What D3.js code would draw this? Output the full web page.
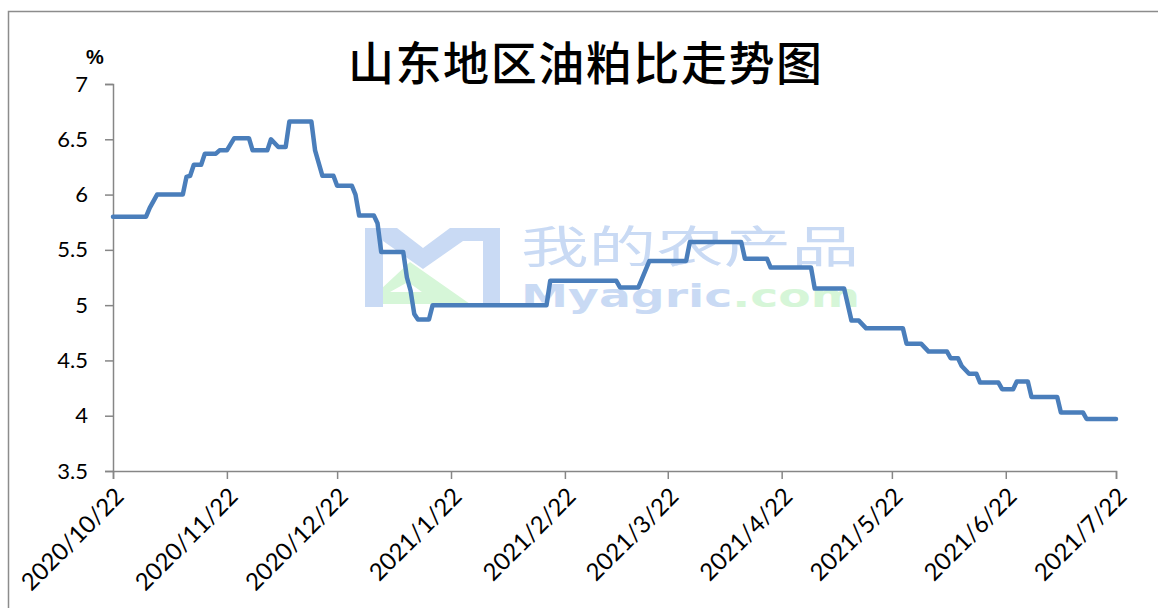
<!DOCTYPE html>
<html>
<head>
<meta charset="utf-8">
<script src="https://cdn.jsdelivr.net/npm/d3@7"></script>
<style>
  html, body { margin: 0; padding: 0; background: #fff; overflow: hidden; }
  svg { display: block; }
  .tick text { font-family: Lato, "Open Sans", sans-serif; font-size: 22px; fill: #000; }
  .x-axis .tick text { font-size: 24px; }
</style>
</head>
<body>
<svg id="chart"></svg>
<script>
// 数据
var dates = [
  "2020-10-22", "2020-10-31", "2020-11-01", "2020-11-03", "2020-11-10", "2020-11-11",
  "2020-11-12", "2020-11-13", "2020-11-15", "2020-11-16", "2020-11-19", "2020-11-20",
  "2020-11-22", "2020-11-24", "2020-11-28", "2020-11-29", "2020-12-03", "2020-12-04",
  "2020-12-06", "2020-12-08", "2020-12-09", "2020-12-15", "2020-12-16", "2020-12-18",
  "2020-12-21", "2020-12-22", "2020-12-26", "2020-12-27", "2020-12-28", "2021-01-01",
  "2021-01-02", "2021-01-03", "2021-01-09", "2021-01-10", "2021-01-11", "2021-01-12",
  "2021-01-13", "2021-01-16", "2021-01-17", "2021-02-17", "2021-02-18", "2021-03-08",
  "2021-03-09", "2021-03-14", "2021-03-15", "2021-03-17", "2021-03-27", "2021-03-28",
  "2021-04-11", "2021-04-12", "2021-04-18", "2021-04-19", "2021-04-30", "2021-05-01",
  "2021-05-09", "2021-05-11", "2021-05-13", "2021-05-15", "2021-05-25", "2021-05-26",
  "2021-05-30", "2021-06-01", "2021-06-06", "2021-06-07", "2021-06-09", "2021-06-10",
  "2021-06-12", "2021-06-14", "2021-06-15", "2021-06-20", "2021-06-21", "2021-06-24",
  "2021-06-25", "2021-06-28", "2021-06-29", "2021-07-06", "2021-07-07", "2021-07-13",
  "2021-07-14", "2021-07-22"
];
var values = [
  5.80, 5.80, 5.88, 6.00, 6.00, 6.16,
  6.17, 6.27, 6.27, 6.37, 6.37, 6.40,
  6.40, 6.51, 6.51, 6.40, 6.40, 6.50,
  6.43, 6.43, 6.66, 6.66, 6.40, 6.17,
  6.17, 6.08, 6.08, 6.00, 5.81, 5.81,
  5.74, 5.48, 5.48, 5.25, 5.13, 4.92,
  4.87, 4.87, 5.00, 5.00, 5.22, 5.22,
  5.16, 5.16, 5.24, 5.40, 5.40, 5.57,
  5.57, 5.42, 5.42, 5.34, 5.34, 5.15,
  5.15, 4.86, 4.86, 4.79, 4.79, 4.65,
  4.65, 4.58, 4.58, 4.52, 4.52, 4.45,
  4.38, 4.38, 4.30, 4.30, 4.24, 4.24,
  4.31, 4.31, 4.17, 4.17, 4.03, 4.03,
  3.97, 3.97
];
var xTicks = ["2020-10-22", "2020-11-22", "2020-12-22", "2021-01-22", "2021-02-22",
  "2021-03-22", "2021-04-22", "2021-05-22", "2021-06-22", "2021-07-22"];
var yTicks = [3.5, 4, 4.5, 5, 5.5, 6, 6.5, 7];
var title = "山东地区油粕比走势图";
var unit = "%";

var parse = d3.timeParse("%Y-%m-%d");
var data = dates.map(function(d, i) { return { date: parse(d), value: values[i] }; });

var svg = d3.select('#chart')
  .attr('width', 1158)
  .attr('height', 608);

// 外框
svg.append('rect')
  .attr('x', 8.5).attr('y', 11.5)
  .attr('width', 1300).attr('height', 800)
  .attr('fill', 'none')
  .attr('stroke', '#8c8c8c')
  .attr('stroke-width', 1.5);

// 比例尺
var xScale = d3.scaleTime()
  .domain([parse(xTicks[0]), parse(xTicks[xTicks.length - 1])])
  .range([113, 1116]);
var yScale = d3.scaleLinear()
  .domain([3.5, 7])
  .range([471, 84]);

// 水印
var wm = svg.append('g').attr('class', 'watermark');
wm.append('path')
  .attr('d', 'M365,304 L410,262 L470,304 Z M390,292 L422,292 L408,282 Z')
  .attr('fill', '#d6f6d8')
  .attr('fill-rule', 'evenodd');
wm.append('polygon')
  .attr('points', '365,228 397,228 423,248 450,228 500,228 500,307 483,307 483,241 463,241 423,269 383,241 383,307 365,307')
  .attr('fill', '#c9daf4');
wm.append('text')
  .attr('x', 521).attr('y', 263)
  .attr('textLength', 338).attr('lengthAdjust', 'spacingAndGlyphs')
  .style('font-family', '"Noto Sans CJK SC", sans-serif')
  .style('font-size', '44px')
  .attr('fill', '#c9daf4')
  .text('我的农产品');
var wt = wm.append('text')
  .attr('x', 521).attr('y', 307)
  .attr('textLength', 339).attr('lengthAdjust', 'spacingAndGlyphs')
  .style('font-family', '"DejaVu Sans", Verdana, sans-serif')
  .style('font-size', '32px')
  .style('font-weight', 'bold');
wt.append('tspan').attr('fill', '#c9daf4').text('Myagric');
wt.append('tspan').attr('fill', '#d6f6d8').text('.com');

// 坐标轴
var yAxis = d3.axisLeft(yScale)
  .tickValues(yTicks)
  .tickSize(8)
  .tickPadding(17)
  .tickFormat(function(d) { return String(d); });
var gy = svg.append('g')
  .attr('class', 'y-axis')
  .attr('transform', 'translate(113,0)')
  .call(yAxis);

var xAxis = d3.axisBottom(xScale)
  .tickValues(xTicks.map(parse))
  .tickSize(8)
  .tickFormat(d3.timeFormat('%Y/%-m/%-d'));
var gx = svg.append('g')
  .attr('class', 'x-axis')
  .attr('transform', 'translate(0,471)')
  .call(xAxis);
gx.selectAll('.tick text')
  .attr('text-anchor', 'end')
  .attr('x', 0).attr('y', 0).attr('dy', '0.35em')
  .attr('transform', 'translate(6,21) rotate(-45)');

svg.selectAll('.domain').attr('stroke', '#868686').attr('stroke-width', 1.5);
svg.selectAll('.tick line').attr('stroke', '#868686').attr('stroke-width', 1.5);

// 折线
var line = d3.line()
  .x(function(d) { return xScale(d.date); })
  .y(function(d) { return yScale(d.value); });
svg.append('path')
  .datum(data)
  .attr('d', line)
  .attr('fill', 'none')
  .attr('stroke', '#4a7ebb')
  .attr('stroke-width', 4.5)
  .attr('stroke-linejoin', 'round')
  .attr('stroke-linecap', 'round');

// 标题与单位
svg.append('text')
  .attr('x', 348).attr('y', 80)
  .attr('textLength', 474).attr('lengthAdjust', 'spacing')
  .style('font-family', '"Noto Sans CJK SC", sans-serif')
  .style('font-size', '46px')
  .style('font-weight', 500)
  .attr('fill', '#000')
  .text(title);
svg.append('text')
  .attr('x', 95).attr('y', 64)
  .attr('text-anchor', 'middle')
  .style('font-family', '"Liberation Sans", Arial, sans-serif')
  .style('font-size', '20px')
  .style('font-weight', 'bold')
  .text(unit);
</script>
</body>
</html>
